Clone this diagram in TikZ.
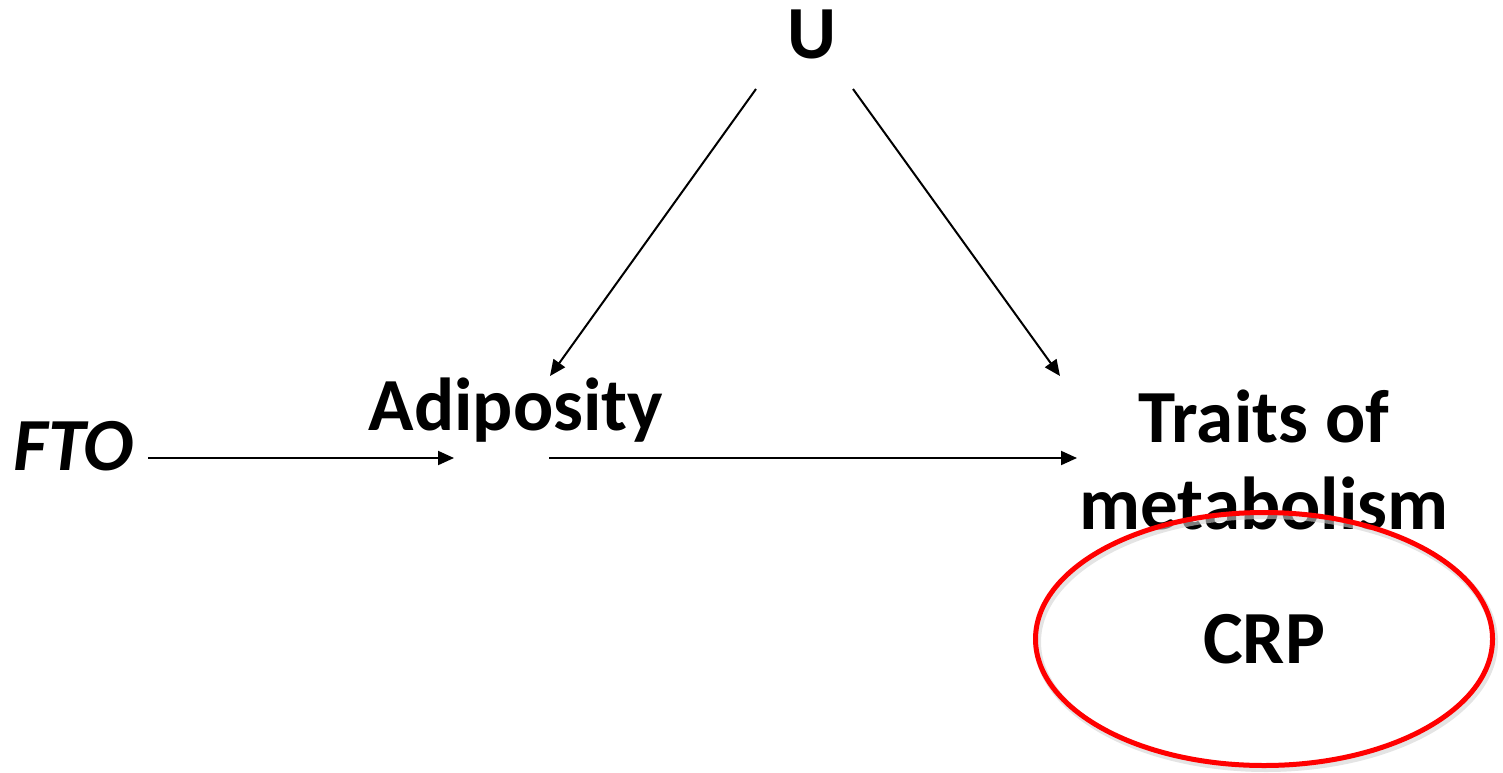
\documentclass[tikz,border=0pt]{standalone}
\usepackage{fontspec}
\setmainfont{Carlito}
\usetikzlibrary{arrows.meta,calc,shapes.geometric}
\begin{document}
\begin{tikzpicture}[x=1pt,y=-1pt,
  lbl/.style={font=\fontsize{75}{87}\selectfont\bfseries, inner sep=0pt, anchor=base},
  arr/.style={line width=2pt, -{Triangle[length=16pt,width=14pt]}},
  ring/.style={draw=red, line width=5pt, ellipse, minimum width=457pt, minimum height=253pt, inner sep=0pt}]
  \useasboundingbox (0,0) rectangle (1503,772);

  % variables (anchored on the last baseline)
  \node[lbl] (u)    at (812,58)  {U};
  \node[lbl] (adip) at (516,430) {Adiposity};
  \node[lbl] (fto)  at (74,470)  {\itshape FTO};
  \node[lbl, align=center] (trait) at (1264,529) {Traits of\\metabolism};

  % causal arrows
  \draw[arr] ($(u.base)+(-56,31)$) -- ($(adip.base)+(34,-54)$);
  \draw[arr] ($(u.base)+(41,31)$) -- ($(trait.base)+(-204,-153)$);
  \draw[arr] ($(fto.base)+(74,-12)$) -- ($(adip.base)+(-62,28)$);
  \draw[arr] ($(adip.base)+(33,28)$) -- ($(trait.base)+(-187,-71)$);

  % highlighted outcome
  \draw[gray!35, line width=7pt, opacity=0.6] (1266,642) ellipse (228.5 and 126.5);
  \node[ring, font=\fontsize{75}{87}\selectfont\bfseries] (crp) at (1264,639) {CRP};
\end{tikzpicture}
\end{document}
